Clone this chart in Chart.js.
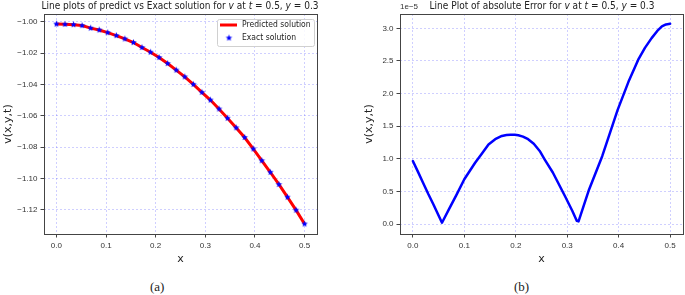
<!DOCTYPE html>
<html>
<head>
<meta charset="utf-8">
<script src="https://cdn.jsdelivr.net/npm/chart.js@4/dist/chart.umd.min.js"></script>
<style>
  body { margin: 0; background: #fff; width: 685px; height: 295px; overflow: hidden; position: relative; }
  canvas { position: absolute; top: 0; }
  #leftChart { left: 0; }
  #rightChart { left: 345px; }
  .title { position: absolute; top: 0; font-family: 'DejaVu Sans', sans-serif; font-size: 11px; line-height: 12px;
           color: #222; white-space: nowrap; transform-origin: center top; }
  .offset { position: absolute; font-family: 'Liberation Sans', sans-serif; font-size: 8px; color: #333; }
  .caption { position: absolute; top: 279px; font-family: 'Liberation Serif', serif; font-size: 13px; color: #222; }
</style>
</head>
<body>
<canvas id="leftChart" width="345" height="270"></canvas>
<canvas id="rightChart" width="340" height="270"></canvas>
<div class="title" id="t1" style="left:180px;transform:translateX(-50%) scaleX(0.82)">Line plots of predict vs Exact solution for <i>v</i> at <i>t</i> = 0.5, <i>y</i> = 0.3</div>
<div class="title" id="t2" style="left:542px;transform:translateX(-50%) scaleX(0.82)">Line Plot of absolute Error for <i>v</i> at <i>t</i> = 0.5, <i>y</i> = 0.3</div>
<div class="offset" style="left:400px;top:2px">1e−5</div>
<div class="caption" style="left:150px">(a)</div>
<div class="caption" style="left:514px">(b)</div>
<script>
// 数据：左图 (预测 vs 精确解)
const xGrid = [0, 0.0172, 0.0345, 0.0517, 0.0690, 0.0862, 0.1034, 0.1207, 0.1379, 0.1552,
               0.1724, 0.1897, 0.2069, 0.2241, 0.2414, 0.2586, 0.2759, 0.2931, 0.3103, 0.3276,
               0.3448, 0.3621, 0.3793, 0.3966, 0.4138, 0.4310, 0.4483, 0.4655, 0.4828, 0.5];
const vValues = [-1.0015, -1.0017, -1.0019, -1.0025, -1.0041, -1.0053, -1.0070, -1.0089, -1.0110, -1.0133,
                 -1.0165, -1.0195, -1.0229, -1.0267, -1.0309, -1.0352, -1.0400, -1.0451, -1.0500, -1.0557,
                 -1.0616, -1.0677, -1.0739, -1.0812, -1.0887, -1.0961, -1.1039, -1.1120, -1.1203, -1.1291];

// 数据：右图 (绝对误差, 单位 1e-5)
const errX = [0, 0.010, 0.020, 0.030, 0.040, 0.050, 0.0566, 0.070, 0.085, 0.100,
              0.121, 0.135, 0.147, 0.160, 0.173, 0.182, 0.190, 0.198, 0.205, 0.214,
              0.224, 0.235, 0.2465, 0.256, 0.272, 0.2955, 0.310, 0.3185, 0.322, 0.3425,
              0.368, 0.398, 0.419, 0.438, 0.451, 0.464, 0.475, 0.484, 0.492, 0.500];
const errY = [0.965, 0.80, 0.63, 0.46, 0.30, 0.13, 0.02, 0.225, 0.45, 0.686,
              0.94, 1.09, 1.22, 1.30, 1.35, 1.365, 1.37, 1.37, 1.36, 1.34,
              1.30, 1.23, 1.12, 0.99, 0.79, 0.43, 0.20, 0.05, 0.04, 0.53,
              1.04, 1.75, 2.18, 2.52, 2.70, 2.85, 2.96, 3.03, 3.06, 3.07];

// 刻度
const xTicks = [0.0, 0.1, 0.2, 0.3, 0.4, 0.5];
const leftYTicks = [-1.12, -1.10, -1.08, -1.06, -1.04, -1.02, -1.00];
const rightYTicks = [0.0, 0.5, 1.0, 1.5, 2.0, 2.5, 3.0];

const tickFont = { family: "'Liberation Sans', sans-serif", size: 8 };
const labelFont = { family: "'DejaVu Sans', sans-serif", size: 11 };
const gridColor = 'rgba(40, 40, 255, 0.28)';
const frameColor = '#444';

// 星形标记
function makeStar(r, color) {
    const c = document.createElement('canvas');
    c.width = c.height = Math.ceil(r * 2 + 2);
    const g = c.getContext('2d');
    const cx = c.width / 2, cy = c.height / 2;
    g.beginPath();
    for (let i = 0; i < 10; i++) {
        const a = -Math.PI / 2 + i * Math.PI / 5;
        const rr = i % 2 === 0 ? r : r * 0.45;
        g.lineTo(cx + rr * Math.cos(a), cy + rr * Math.sin(a));
    }
    g.closePath();
    g.fillStyle = color;
    g.fill();
    return c;
}
const starImg = makeStar(3.4, '#0000ff');

const minus = s => s.replace('-', '\u2212');

// 边框插件
const framePlugin = {
    id: 'frame',
    afterDatasetsDraw(chart) {
        const { ctx, chartArea: a } = chart;
        ctx.save();
        ctx.strokeStyle = frameColor;
        ctx.lineWidth = 1;
        ctx.strokeRect(Math.round(a.left) + 0.5, Math.round(a.top) + 0.5,
                       Math.round(a.right - a.left), Math.round(a.bottom - a.top));
        ctx.restore();
    }
};

// 图例插件 (左图内部右上角)
const legendPlugin = {
    id: 'innerLegend',
    afterDraw(chart) {
        if (!chart.options.plugins.innerLegend) return;
        const { ctx, chartArea: a } = chart;
        const w = 97, h = 27;
        const x0 = a.right - 3 - w, y0 = a.top + 5;
        ctx.save();
        ctx.fillStyle = 'rgba(255,255,255,0.85)';
        ctx.strokeStyle = '#d0d0d0';
        ctx.lineWidth = 1;
        ctx.beginPath();
        ctx.roundRect(x0 + 0.5, y0 + 0.5, w, h, 2);
        ctx.fill();
        ctx.stroke();
        ctx.strokeStyle = '#ff0000';
        ctx.lineWidth = 3;
        ctx.beginPath();
        ctx.moveTo(x0 + 3, y0 + 6);
        ctx.lineTo(x0 + 20, y0 + 6);
        ctx.stroke();
        ctx.drawImage(starImg, x0 + 12 - starImg.width / 2, y0 + 19 - starImg.height / 2);
        ctx.fillStyle = '#222';
        ctx.font = "9px 'DejaVu Sans', sans-serif";
        ctx.textBaseline = 'middle';
        ctx.save();
        ctx.translate(x0 + 25, 0);
        ctx.scale(0.85, 1);
        ctx.fillText('Predicted solution', 0, y0 + 6);
        ctx.fillText('Exact solution', 0, y0 + 19);
        ctx.restore();
        ctx.restore();
    }
};

function makeScales(yMin, yMax, yTicks, yDigits, yWidth, yTitlePad) {
    return {
        x: {
            type: 'linear', min: -0.025, max: 0.525,
            afterBuildTicks: s => { s.ticks = xTicks.map(v => ({ value: v })); },
            afterFit: s => { s.height = 36; },
            ticks: { font: tickFont, color: '#333', padding: 3, callback: v => v.toFixed(1) },
            grid: { color: gridColor, lineWidth: 0.8, tickLength: 3.5, tickColor: frameColor, tickWidth: 1, tickBorderDash: [10, 0] },
            border: { display: false, dash: [2, 2] },
            title: { display: true, text: 'x', font: labelFont, color: '#222', padding: { top: 0, bottom: 4 } }
        },
        y: {
            type: 'linear', min: yMin, max: yMax,
            afterBuildTicks: s => { s.ticks = yTicks.map(v => ({ value: v })); },
            afterFit: s => { s.width = yWidth; },
            ticks: { font: tickFont, color: '#333', padding: 3, callback: v => minus(v.toFixed(yDigits)) },
            grid: { color: gridColor, lineWidth: 0.8, tickLength: 3.5, tickColor: frameColor, tickWidth: 1, tickBorderDash: [10, 0] },
            border: { display: false, dash: [2, 2] },
            title: { display: true, text: 'v(x,y,t)', font: labelFont, color: '#222', padding: { top: yTitlePad, bottom: 0 } }
        }
    };
}

new Chart(document.getElementById('leftChart'), {
    type: 'line',
    data: {
        datasets: [
            {
                label: 'Predicted solution',
                data: xGrid.map((x, i) => ({ x: x, y: vValues[i] })),
                borderColor: '#ff0000', borderWidth: 3, pointRadius: 0, tension: 0, order: 2
            },
            {
                label: 'Exact solution',
                data: xGrid.map((x, i) => ({ x: x, y: vValues[i] })),
                showLine: false, pointStyle: starImg, pointRadius: 3.5, order: 1
            }
        ]
    },
    options: {
        responsive: false, animation: false, devicePixelRatio: 1,
        layout: { padding: { top: 14, right: 28, left: 0, bottom: 0 } },
        scales: makeScales(-1.1355, -0.9951, leftYTicks, 2, 44, 1.5),
        plugins: { legend: { display: false }, tooltip: { enabled: false }, innerLegend: true }
    },
    plugins: [framePlugin, legendPlugin]
});

new Chart(document.getElementById('rightChart'), {
    type: 'line',
    data: {
        datasets: [{
            label: 'absolute Error',
            data: errX.map((x, i) => ({ x: x, y: errY[i] })),
            borderColor: '#0000ff', borderWidth: 2.5, pointRadius: 0, tension: 0,
            borderJoinStyle: 'round', borderCapStyle: 'round'
        }]
    },
    options: {
        responsive: false, animation: false, devicePixelRatio: 1,
        layout: { padding: { top: 14, right: 2, left: 0, bottom: 0 } },
        scales: makeScales(-0.153, 3.22, rightYTicks, 1, 55, 18),
        plugins: { legend: { display: false }, tooltip: { enabled: false } }
    },
    plugins: [framePlugin]
});
</script>
</body>
</html>
